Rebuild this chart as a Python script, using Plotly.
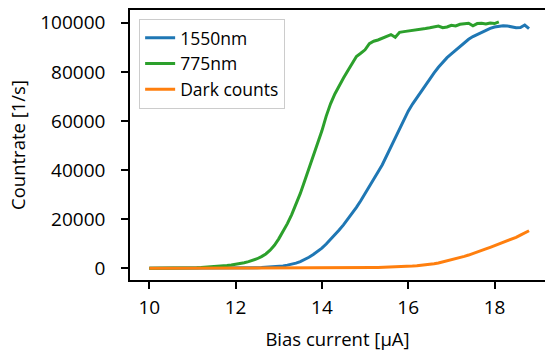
import plotly.graph_objects as go

bias_current = [10.0, 10.1, 10.2, 10.3, 10.4, 10.5, 10.6, 10.7, 10.8, 10.9,
                11.0, 11.1, 11.2, 11.3, 11.4, 11.5, 11.6, 11.7, 11.8, 11.9,
                12.0, 12.1, 12.2, 12.3, 12.4, 12.5, 12.6, 12.7, 12.8, 12.9,
                13.0, 13.1, 13.2, 13.3, 13.4, 13.5, 13.6, 13.7, 13.8, 13.9,
                14.0, 14.1, 14.2, 14.3, 14.4, 14.5, 14.6, 14.7, 14.8, 14.9,
                15.0, 15.1, 15.2, 15.3, 15.4, 15.5, 15.6, 15.7, 15.8, 15.9,
                16.0, 16.1, 16.2, 16.3, 16.4, 16.5, 16.6, 16.7, 16.8, 16.9,
                17.0, 17.1, 17.2, 17.3, 17.4, 17.5, 17.6, 17.7, 17.8, 17.9,
                18.0, 18.1, 18.2, 18.3, 18.4, 18.5, 18.6, 18.7, 18.8]

counts_1550 = [0, 0, 0, 0, 0, 0, 0, 0, 0, 0,
               0, 0, 0, 0, 0, 0, 10, 20, 40, 60,
               100, 130, 160, 190, 220, 260, 320, 390, 470, 580,
               720, 950, 1300, 1650, 2100, 2750, 3500, 4500, 5600, 6800,
               8200, 9900, 11700, 13600, 15600, 17700, 20000, 22300, 24800, 27500,
               30300, 33200, 36200, 39200, 42200, 45800, 49600, 53500, 57200, 60700,
               64000, 66900, 69500, 72000, 74500, 77100, 79600, 81900, 84000, 85800,
               87300, 88800, 90300, 91900, 93300, 94400, 95300, 96200, 97000, 97700,
               98300, 98700, 98800, 98700, 98200, 98000, 98100, 99100, 97600]

counts_775 = [0, 0, 10, 20, 30, 40, 60, 80, 110, 150,
              200, 260, 340, 430, 540, 660, 800, 950, 1150, 1350,
              1600, 1900, 2250, 2700, 3250, 3900, 4750, 5850, 7350, 9400,
              12000, 14900, 18200, 21900, 26000, 30500, 35600, 40600, 45500, 50500,
              56000, 62000, 67000, 71000, 74500, 77500, 80500, 83500, 86300, 87600,
              89000, 91500, 92500, 93000, 93800, 94500, 95200, 94100, 96100, 96400,
              96600, 96900, 97100, 97400, 97700, 98000, 98500, 98700, 98000, 98300,
              99000, 98700, 99400, 99500, 99800, 98800, 99700, 99800, 99500, 99900,
              99700, 100400]

dark_counts = [0, 0, 0, 0, 0, 0, 0, 0, 0, 0,
               0, 0, 0, 0, 0, 0, 0, 0, 0, 0,
               0, 0, 0, 0, 0, 0, 0, 0, 0, 0,
               10, 10, 20, 20, 30, 30, 40, 40, 50, 50,
               60, 70, 80, 90, 100, 120, 140, 160, 180, 200,
               230, 260, 300, 340, 380, 430, 480, 540, 600, 670,
               760, 900, 1050, 1200, 1400, 1600, 1850, 2150, 2550, 2950,
               3400, 3850, 4350, 4850, 5400, 5950, 6500, 7150, 7900, 8550,
               9200, 9800, 10400, 11100, 11800, 12600, 13500, 14400, 15300]

series_names = ["1550nm", "775nm", "Dark counts"]
series_colors = ["#1f77b4", "#2ca02c", "#ff7f0e"]

x_ticks = [10, 12, 14, 16, 18]
y_ticks = [0, 20000, 40000, 60000, 80000, 100000]

FONT = "Open Sans, Noto Sans, DejaVu Sans, sans-serif"

fig = go.Figure()
for name, xs, ys, col in [
    (series_names[0], bias_current, counts_1550, series_colors[0]),
    (series_names[1], bias_current[:len(counts_775)], counts_775, series_colors[1]),
    (series_names[2], bias_current, dark_counts, series_colors[2]),
]:
    fig.add_trace(go.Scatter(x=xs, y=ys, mode="lines", name=name,
                             line=dict(color=col, width=3)))

fig.update_layout(
    width=545, height=353,
    margin=dict(l=130, r=0, t=10, b=73),
    paper_bgcolor="white", plot_bgcolor="white",
    font=dict(family=FONT, size=19, color="black"),
    showlegend=True,
    legend=dict(x=0.022, y=0.967, xanchor="left", yanchor="top",
                bgcolor="white", bordercolor="#cccccc", borderwidth=1,
                font=dict(size=17.5), itemwidth=30, tracegroupgap=0),
    xaxis=dict(range=[9.553, 19.17], tickvals=x_ticks, ticks="outside",
               ticklen=7, tickwidth=1.6, tickcolor="black",
               showline=True, linecolor="black", linewidth=1.6, mirror=True,
               showgrid=False, zeroline=False, automargin=False,
               ticklabelstandoff=2,
               title=dict(text="Bias current [μA]", standoff=14,
                          font=dict(size=18.5))),
    yaxis=dict(range=[-4766, 105214], tickvals=y_ticks, ticks="outside",
               ticklen=7, tickwidth=1.6, tickcolor="black",
               showline=True, linecolor="black", linewidth=1.6, mirror=False,
               showgrid=False, zeroline=False, tickformat="d", automargin=False,
               ticklabelstandoff=12,
               title=dict(text="Countrate [1/s]", standoff=10,
                          font=dict(size=18.5))),
)

fig.write_html("out.html", config={"displayModeBar": False},
               post_script="document.body.style.margin='0';document.body.style.overflow='hidden';")
